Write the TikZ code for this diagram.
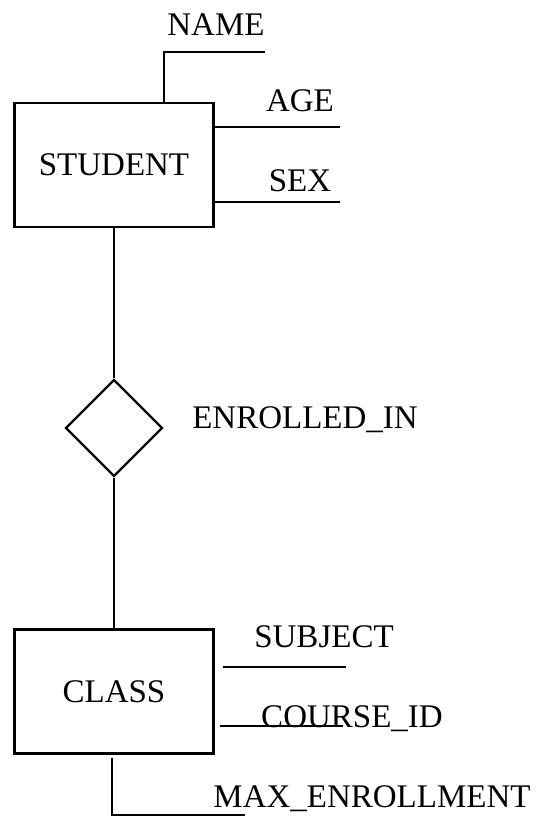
\documentclass[tikz,border=0pt]{standalone}
\usepackage{fontspec}
\setmainfont{Liberation Serif}
\usetikzlibrary{shapes.geometric}
\begin{document}
\begin{tikzpicture}[x=1pt, y=-1pt, line width=2.4pt,
    every node/.style={font=\fontsize{33}{40}\selectfont},
    entity/.style={draw, rectangle, minimum width=199pt, minimum height=124pt, inner sep=0pt},
    relation/.style={draw, diamond, minimum size=97pt, inner sep=0pt},
    attr/.style={anchor=base, inner sep=0pt}]
    \useasboundingbox (0,0) rectangle (540,817);
    \node[entity] (student) at (114,165) {STUDENT};
    \node[relation] (enrolled) at (114,428) {};
    \node[entity] (class) at (114,691.5) {CLASS};
    \draw (student) -- (enrolled) -- (class);
    \coordinate (nameend) at (265,52);
    \coordinate (ageend) at (340,127);
    \coordinate (sexend) at (340,202);
    \draw ([xshift=50pt]student.north) |- (nameend);
    \draw (student.east |- ageend) -- (ageend);
    \draw (student.east |- sexend) -- (sexend);
    \coordinate (subjend) at (346,667);
    \coordinate (courseend) at (343,726);
    \coordinate (maxcorner) at (112,815);
    \coordinate (maxend) at (245,815);
    \draw ([xshift=8pt]class.east |- subjend) -- (subjend);
    \draw ([xshift=5pt]class.east |- courseend) -- (courseend);
    \draw ([yshift=-3pt]class.south -| maxcorner) -- (maxcorner) -- (maxend);
    \node[attr] (name) at (216,35) {NAME};
    \node[attr] (age) at (300,111) {AGE};
    \node[attr] (sex) at (300,191) {SEX};
    \node[attr] (enrolledtxt) at (305,428) {ENROLLED\_IN};
    \node[attr] (subject) at (324,647) {SUBJECT};
    \node[attr] (courseid) at (352,727) {COURSE\_ID};
    \node[attr] (maxenroll) at (372,807) {MAX\_ENROLLMENT};
\end{tikzpicture}
\end{document}
